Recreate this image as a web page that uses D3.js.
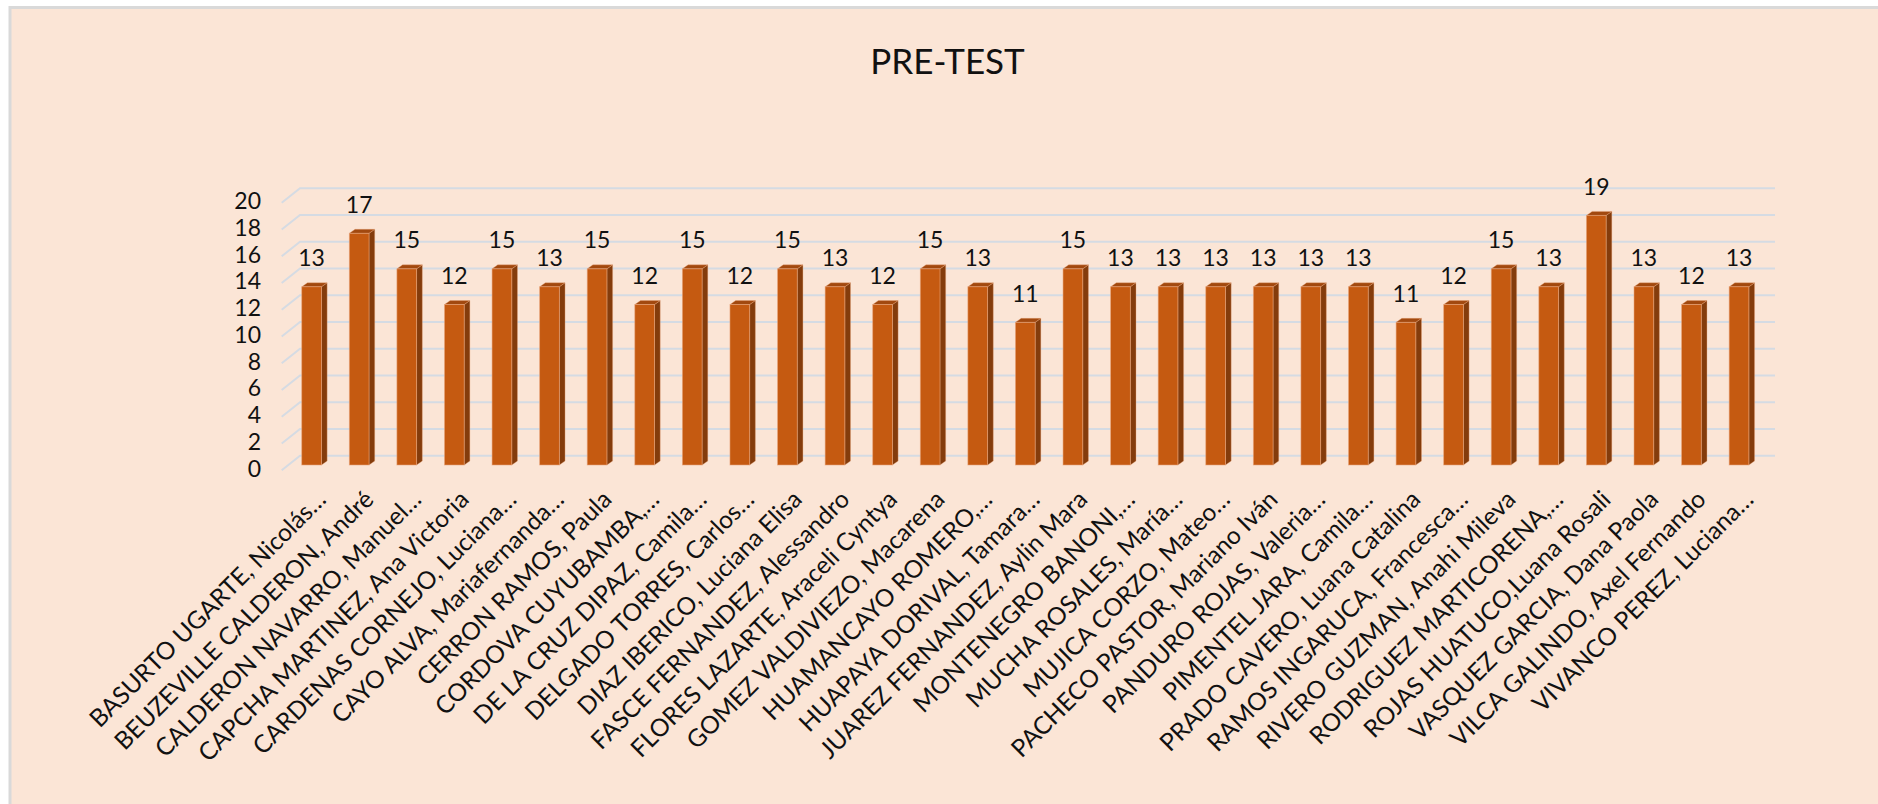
<!DOCTYPE html>
<html>
<head>
<meta charset="utf-8">
<script src="https://cdn.jsdelivr.net/npm/d3@7"></script>
<style>
  html, body { margin: 0; padding: 0; background: #ffffff; }
  svg { display: block; }
  text { font-family: Lato, "Open Sans", sans-serif; fill: #111; }
</style>
</head>
<body>
<svg id="chart" width="1878" height="804"></svg>
<script>
// ---------- data ----------
const chartTitle = "PRE-TEST";
const students = [
  "BASURTO UGARTE, Nicolás…",
  "BEUZEVILLE CALDERON, André",
  "CALDERON NAVARRO, Manuel…",
  "CAPCHA MARTINEZ, Ana Victoria",
  "CARDENAS CORNEJO, Luciana…",
  "CAYO ALVA, Mariafernanda…",
  "CERRON RAMOS, Paula",
  "CORDOVA CUYUBAMBA,…",
  "DE LA CRUZ DIPAZ, Camila…",
  "DELGADO TORRES, Carlos…",
  "DIAZ IBERICO, Luciana Elisa",
  "FASCE FERNANDEZ, Alessandro",
  "FLORES LAZARTE, Araceli Cyntya",
  "GOMEZ VALDIVIEZO, Macarena",
  "HUAMANCAYO ROMERO,…",
  "HUAPAYA DORIVAL, Tamara…",
  "JUAREZ FERNANDEZ, Aylin Mara",
  "MONTENEGRO BANONI,…",
  "MUCHA ROSALES, María…",
  "MUJICA CORZO, Mateo…",
  "PACHECO PASTOR, Mariano Iván",
  "PANDURO ROJAS, Valeria…",
  "PIMENTEL JARA, Camila…",
  "PRADO CAVERO, Luana Catalina",
  "RAMOS INGARUCA, Francesca…",
  "RIVERO GUZMAN, Anahi Mileva",
  "RODRIGUEZ MARTICORENA,…",
  "ROJAS HUATUCO,Luana Rosali",
  "VASQUEZ GARCIA, Dana Paola",
  "VILCA GALINDO, Axel Fernando",
  "VIVANCO PEREZ, Luciana…"
];
const scores = [
  13.33, 17.33, 14.67, 12, 14.67, 13.33, 14.67, 12, 14.67, 12,
  14.67, 13.33, 12, 14.67, 13.33, 10.67, 14.67, 13.33, 13.33, 13.33,
  13.33, 13.33, 13.33, 10.67, 12, 14.67, 13.33, 18.67, 13.33, 12,
  13.33
];
const yTicks = [0, 2, 4, 6, 8, 10, 12, 14, 16, 18, 20];

// ---------- layout ----------
const W = 1878, H = 804;
const wall = { left: 300, right: 1775, y0: 455.7, y20: 188.3 };
const floorDepth = { dx: -18.3, dy: 14.5 };   // back wall -> front edge of floor
const barFront   = { dx: -12.2, dy: 9.3 };    // back wall -> bar front face
const barDepth   = { dx: 5.7,  dy: -4 };      // bar front -> bar back

const colors = {
  bg: "#fbe5d6", border: "#d9d9d9", grid: "#d5dbe3",
  front: "#c55a11", side: "#843c0c", top: "#a2490f", edge: "#e8a57c"
};

const svg = d3.select("#chart");

// background / chart area
svg.append("rect").attr("x", 0).attr("y", 0).attr("width", W).attr("height", H).attr("fill", "#ffffff");
svg.append("rect")
  .attr("x", 10).attr("y", 7.5).attr("width", W + 10).attr("height", H + 10)
  .attr("fill", colors.bg).attr("stroke", colors.border).attr("stroke-width", 3);

// scales
const y = d3.scaleLinear().domain([0, 20]).range([wall.y0, wall.y20]);
const x = d3.scaleBand().domain(students).range([wall.left, wall.right])
  .paddingInner(0.586).paddingOuter(0.293);

// gridlines on back wall + side wall diagonals
const grid = svg.append("g").attr("stroke", colors.grid).attr("stroke-width", 2).attr("fill", "none");
grid.selectAll("path").data(yTicks).join("path")
  .attr("d", v => {
    const yb = y(v);
    return `M${wall.left + floorDepth.dx},${yb + floorDepth.dy} L${wall.left},${yb} L${wall.right},${yb}`;
  });

// y axis labels (aligned to front edge of gridlines)
const yFront = d3.scaleLinear().domain(y.domain()).range(y.range().map(r => r + floorDepth.dy));
const yAxis = svg.append("g")
  .attr("transform", "translate(261,-1.5)")
  .call(d3.axisLeft(yFront).tickValues(yTicks).tickSize(0).tickPadding(0));
yAxis.select(".domain").remove();
yAxis.selectAll("text").attr("font-size", 23).attr("font-family", "Lato, sans-serif").attr("fill", "#111");

// bars (3D columns)
const bars = svg.append("g").selectAll("g").data(students).join("g");
bars.each(function(name, i) {
  const g = d3.select(this);
  const v = scores[i];
  const xl = x(name) + barFront.dx;
  const xr = xl + x.bandwidth();
  const yt = y(v) + barFront.dy;
  const yb = y(0) + barFront.dy;
  const dx = barDepth.dx, dy = barDepth.dy;
  // side face
  g.append("path")
    .attr("d", `M${xr},${yt} L${xr + dx},${yt + dy} L${xr + dx},${yb + dy} L${xr},${yb} Z`)
    .attr("fill", colors.side).attr("stroke", colors.edge).attr("stroke-width", 0.6).attr("stroke-opacity", 0.6);
  // top face
  g.append("path")
    .attr("d", `M${xl},${yt} L${xl + dx},${yt + dy} L${xr + dx},${yt + dy} L${xr},${yt} Z`)
    .attr("fill", colors.top).attr("stroke", colors.edge).attr("stroke-width", 0.6).attr("stroke-opacity", 0.6);
  // front face
  g.append("rect")
    .attr("x", xl).attr("y", yt).attr("width", x.bandwidth()).attr("height", yb - yt)
    .attr("fill", colors.front).attr("stroke", colors.edge).attr("stroke-width", 0.8).attr("stroke-opacity", 0.7);
  // data label
  g.append("text")
    .attr("x", xl + x.bandwidth() / 2).attr("y", yt - 20.5)
    .attr("text-anchor", "middle").attr("font-size", 23)
    .text(Math.round(v));
});

// category labels, rotated -45°
svg.append("g").selectAll("text").data(students).join("text")
  .attr("transform", d => {
    const cx = x(d) + barFront.dx + x.bandwidth() / 2 + 16;
    return `translate(${cx},501) rotate(-45)`;
  })
  .attr("text-anchor", "end")
  .attr("font-size", 24.5)
  .text(d => d);

// title
svg.append("text")
  .attr("x", 947.5).attr("y", 74)
  .attr("text-anchor", "middle").attr("font-size", 35)
  .text(chartTitle);
</script>
</body>
</html>
